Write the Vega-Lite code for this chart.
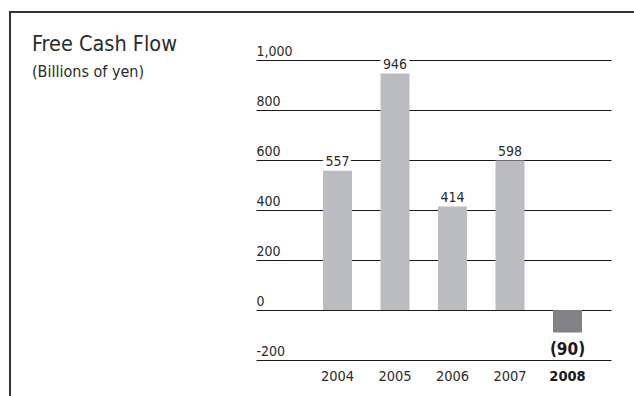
{
  "$schema": "https://vega.github.io/schema/vega-lite/v6.json",
  "width": 630,
  "height": 392,
  "autosize": {"type": "none"},
  "padding": {"left": 10, "top": 12, "right": -6, "bottom": -8},
  "background": "white",
  "config": {
    "font": "DejaVu Sans Condensed, sans-serif",
    "view": {"stroke": "#333333", "strokeWidth": 2}
  },
  "title": {
    "text": "Free Cash Flow",
    "subtitle": "(Billions of yen)",
    "anchor": "start",
    "frame": "group",
    "offset": 0,
    "dx": 22,
    "dy": 68,
    "fontSize": 21.5,
    "fontWeight": "normal",
    "color": "#2b2b2b",
    "subtitleFontSize": 16,
    "subtitleColor": "#2b2b2b",
    "subtitlePadding": 9
  },
  "data": {
    "values": [
      {"year": "2004", "value": 557, "label": "557"},
      {"year": "2005", "value": 946, "label": "946"},
      {"year": "2006", "value": 414, "label": "414"},
      {"year": "2007", "value": 598, "label": "598"},
      {"year": "2008", "value": -90, "label": "(90)"}
    ]
  },
  "encoding": {
    "x": {
      "field": "year",
      "type": "ordinal",
      "scale": {"range": [246, 601], "paddingInner": 0.4957, "paddingOuter": 0.8348, "align": 0.698},
      "axis": {
        "title": null,
        "domain": false,
        "ticks": false,
        "tickSize": 0,
        "grid": false,
        "labelAngle": 0,
        "labelBaseline": "alphabetic",
        "labelPadding": -23.5,
        "labelFontSize": 14.5,
        "labelColor": {"condition": {"test": "datum.value === '2008'", "value": "#1a1a1a"}, "value": "#2b2b2b"},
        "labelFontWeight": {"condition": {"test": "datum.value === '2008'", "value": "bold"}, "value": "normal"}
      }
    },
    "y": {
      "field": "value",
      "type": "quantitative",
      "scale": {"domain": [-200, 1000], "range": [348, 48], "nice": false, "zero": false},
      "axis": {
        "title": null,
        "values": [-200, 0, 200, 400, 600, 800, 1000],
        "domain": false,
        "ticks": false,
        "tickSize": 0,
        "grid": true,
        "gridColor": "#1a1a1a",
        "gridWidth": 1,
        "gridOpacity": 1,
        "labelAlign": "left",
        "labelBaseline": "alphabetic",
        "labelPadding": -246,
        "labelOffset": -5,
        "labelFontSize": 14,
        "labelColor": "#2b2b2b",
        "labelOverlap": false,
        "labelBound": false,
        "labelFlush": false,
        "labelExpr": "datum.value === 1000 ? '1,000' : '' + datum.value"
      }
    }
  },
  "layer": [
    {
      "mark": {"type": "bar"},
      "encoding": {
        "color": {"condition": {"test": "datum.value < 0", "value": "#808285"}, "value": "#bbbcbf"}
      }
    },
    {
      "transform": [{"filter": "datum.value > 0"}],
      "mark": {"type": "text", "baseline": "alphabetic", "dy": -5, "fontSize": 14, "stroke": "white", "strokeWidth": 7, "color": "white"},
      "encoding": {"text": {"field": "label"}}
    },
    {
      "transform": [{"filter": "datum.value > 0"}],
      "mark": {"type": "text", "baseline": "alphabetic", "dy": -5, "fontSize": 14, "color": "#2b2b2b"},
      "encoding": {"text": {"field": "label"}}
    },
    {
      "transform": [{"filter": "datum.value < 0"}],
      "mark": {"type": "text", "baseline": "alphabetic", "dy": 22, "fontSize": 17, "fontWeight": "bold", "color": "#1a1a1a"},
      "encoding": {"text": {"field": "label"}}
    }
  ]
}
